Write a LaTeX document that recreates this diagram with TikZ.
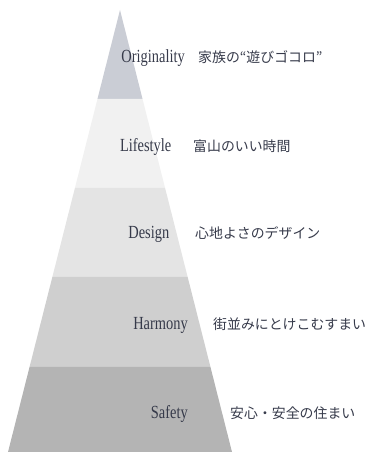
\documentclass[tikz,border=0pt]{standalone}
\usepackage{fontspec}
\setmainfont{Liberation Serif}
\newfontfamily\engfont[FakeStretch=0.78]{Liberation Serif}
\newfontfamily\jpfont{Noto Sans CJK JP}
\definecolor{bandA}{HTML}{CACDD5}
\definecolor{bandB}{HTML}{F1F1F1}
\definecolor{bandC}{HTML}{E4E4E4}
\definecolor{bandD}{HTML}{CFCFCF}
\definecolor{bandE}{HTML}{B4B4B4}
\definecolor{txt}{HTML}{363A4A}
\begin{document}
\begin{tikzpicture}[x=1pt,y=1pt,
  eng/.style={anchor=base east,inner sep=0pt,text=txt,font=\engfont\fontsize{18.5}{20}\selectfont},
  jp/.style={anchor=base west,inner sep=0pt,text=txt,font=\jpfont\fontsize{13.9}{16}\selectfont}]
\useasboundingbox (0,0) rectangle (369,452);
% pyramid bands
\fill[bandA] (120,442) -- (142.55,353) -- (97.45,353) -- cycle;
\fill[bandB] (97.45,353) -- (142.55,353) -- (165.1,264) -- (74.9,264) -- cycle;
\fill[bandC] (74.9,264) -- (165.1,264) -- (187.66,175) -- (52.34,175) -- cycle;
\fill[bandD] (52.34,175) -- (187.66,175) -- (210.46,85) -- (29.54,85) -- cycle;
\fill[bandE] (29.54,85) -- (210.46,85) -- (232,0) -- (8,0) -- cycle;
% labels
\node[eng] (e1) at (185,389) {Originality};
\node[jp]  (j1) at (198,389) {家族の“遊びゴコロ”};
\node[eng] (e2) at (171.5,300) {Lifestyle};
\node[jp]  (j2) at (193,300) {富山のいい時間};
\node[eng] (e3) at (169.5,213) {Design};
\node[jp]  (j3) at (195,213) {心地よさのデザイン};
\node[eng] (e4) at (188,122) {Harmony};
\node[jp]  (j4) at (213,122) {街並みにとけこむすまい};
\node[eng] (e5) at (188,33) {Safety};
\node[jp]  (j5) at (230,33) {安心・安全の住まい};
\end{tikzpicture}
\end{document}
